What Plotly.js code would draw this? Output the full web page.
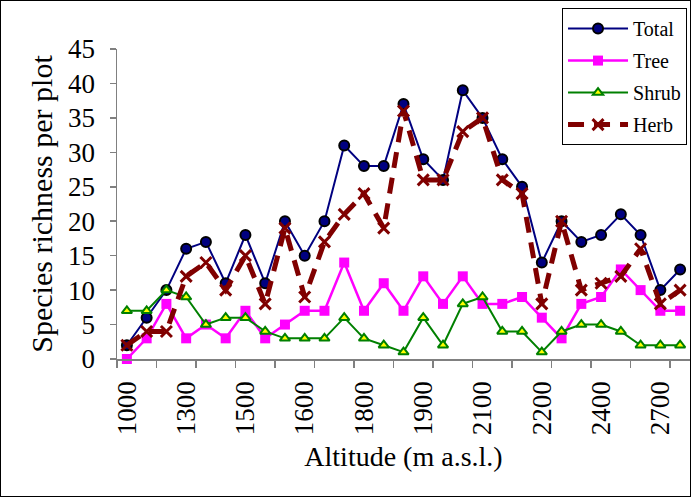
<!DOCTYPE html>
<html>
<head>
<meta charset="utf-8">
<script src="https://cdn.plot.ly/plotly-3.0.1.min.js"></script>
<style>
html,body{margin:0;padding:0;background:#fff;}
#chart{width:689px;height:495px;border:1px solid #000;}
</style>
</head>
<body>
<div id="chart"></div>
<script>
// 29 sampled altitude plots (category index along the x axis)
const altitudeLabels = ['1000','1300','1500','1600','1800','1900','2100','2200','2400','2700'];
const labelEvery = 3;   // a label on every third plot
const total = [2,6,10,16,17,11,18,11,20,15,20,31,28,28,37,29,26,39,35,29,25,14,20,17,18,21,18,10,13];
const tree  = [0,3,8,3,5,3,7,3,5,7,7,14,7,11,7,12,8,12,8,8,9,6,3,8,9,13,10,7,7];
const shrub = [7,7,10,9,5,6,6,4,3,3,3,6,3,2,1,6,2,8,9,4,4,1,4,5,5,4,2,2,2];
const herb  = [2,4,4,12,14,10,15,8,19,9,17,21,24,19,36,26,26,33,35,26,24,8,20,10,11,12,16,8,10];

const idx = total.map((_, i) => i);
const labelPos = altitudeLabels.map((_, i) => i * labelEvery);
const boundaryTicks = [];
for (let v = -0.5; v < total.length - 1; v += 2) boundaryTicks.push(v);

const serif = '"Liberation Serif", "Times New Roman", serif';

const traces = [
  {name:'Total', x:idx, y:total, mode:'lines+markers', legendgroup:'a',
   line:{color:'#000080', width:2},
   marker:{symbol:'circle', size:10, color:'#000080', line:{color:'#000', width:2}}},
  {name:'Tree', x:idx, y:tree, mode:'lines+markers', legendgroup:'b',
   line:{color:'#FF00FF', width:2.5},
   marker:{symbol:'square', size:10, color:'#FF00FF'}},
  {name:'Shrub', x:idx, y:shrub, mode:'lines+markers', legendgroup:'c',
   line:{color:'#008000', width:2},
   marker:{symbol:'triangle-up', size:9, color:'#FFFF00', line:{color:'#008000', width:2}}},
  {name:'Herb', x:idx, y:herb, mode:'lines+markers', legendgroup:'d',
   line:{color:'#800000', width:5, dash:'16px,10px'},
   marker:{symbol:'x-thin-open', size:11, color:'#800000', line:{color:'#800000', width:3}}}
].map(t => Object.assign(t, {cliponaxis:false}));

const layout = {
  width:689, height:495,
  margin:{l:116, r:0, t:48, b:137},
  paper_bgcolor:'#fff', plot_bgcolor:'#fff',
  font:{family:serif, color:'#000'},
  showlegend:true,
  legend:{x:0.9948, xanchor:'right', y:1.132, yanchor:'top',
    bgcolor:'#fff', bordercolor:'#000', borderwidth:1,
    font:{family:serif, size:20, color:'#000'},
    tracegroupgap:3, itemwidth:60},
  xaxis:{range:[-0.5, total.length - 0.5], showgrid:false, zeroline:false,
    showline:true, linecolor:'#808080', linewidth:1.5,
    tickmode:'array', tickvals:labelPos, ticktext:altitudeLabels,
    ticks:'', tickangle:-90, ticklabelstandoff:10,
    tickfont:{family:serif, size:27, color:'#000'},
    minor:{tickmode:'array', tickvals:boundaryTicks, ticks:'outside', ticklen:7, tickcolor:'#808080', tickwidth:1.5, showgrid:false},
    title:{text:'Altitude (m a.s.l.)', font:{family:serif, size:28, color:'#000'}, standoff:12}},
  yaxis:{range:[0,45], dtick:5, showgrid:false, zeroline:false,
    showline:true, linecolor:'#808080', linewidth:1.5,
    ticks:'outside', ticklen:6, tickcolor:'#808080', tickwidth:1.5, ticklabelstandoff:9,
    tickfont:{family:serif, size:27, color:'#000'},
    title:{text:'Species richness per plot', font:{family:serif, size:30, color:'#000'}, standoff:6}}
};

Plotly.newPlot('chart', traces, layout, {displayModeBar:false, staticPlot:true});
</script>
</body>
</html>
